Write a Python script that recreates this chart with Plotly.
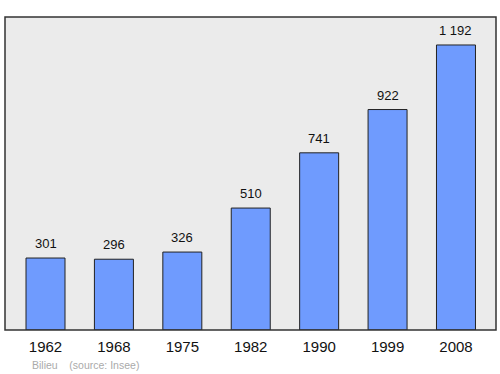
import plotly.graph_objects as go

years = ["1962", "1968", "1975", "1982", "1990", "1999", "2008"]
population = [301, 296, 326, 510, 741, 922, 1192]
labels = ["301", "296", "326", "510", "741", "922", "1 192"]

xs = list(range(len(years)))

fig = go.Figure()
fig.add_trace(go.Bar(
    x=xs, y=population, width=0.57,
    marker=dict(color="#6f9bfe", line=dict(color="#222222", width=1)),
    hoverinfo="skip",
))
for x, y, t in zip(xs, population, labels):
    fig.add_annotation(x=x, y=y, text=t, showarrow=False, yanchor="bottom", yshift=5,
                       font=dict(family="Liberation Sans, Arial", size=13, color="#111111"))

fig.add_shape(type="rect", xref="paper", yref="paper", x0=0, y0=0, x1=1, y1=1,
              line=dict(color="#333333", width=1.5), fillcolor="rgba(0,0,0,0)", layer="above")

fig.add_annotation(xref="paper", yref="paper", x=0.05, y=-0.112, xanchor="left", yanchor="middle",
                   text="Bilieu&nbsp;&nbsp;&nbsp;&nbsp;(source: Insee)", showarrow=False,
                   font=dict(family="Liberation Sans, Arial", size=10.5, color="#aaaaaa"))

fig.update_layout(
    width=500, height=374,
    margin=dict(l=5, r=4, t=17, b=44),
    paper_bgcolor="white", plot_bgcolor="#ebebeb",
    showlegend=False,
    xaxis=dict(range=[-0.592, 6.585], tickvals=xs, ticktext=years, showgrid=False, zeroline=False,
               ticks="outside", ticklen=3, tickcolor="rgba(0,0,0,0)",
               tickfont=dict(family="Liberation Sans, Arial", size=15, color="#111111")),
    yaxis=dict(range=[0, 1309], showgrid=False, zeroline=False, showticklabels=False),
)

fig.write_html("out.html")
